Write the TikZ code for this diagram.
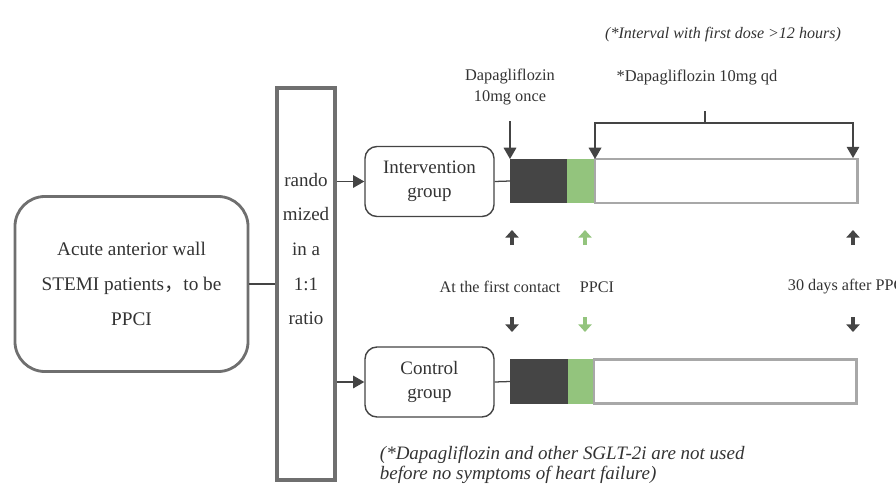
\documentclass[tikz,border=0pt]{standalone}
\usepackage{fontspec}
\setmainfont{Liberation Serif}
\newfontfamily\cjk{Noto Sans CJK SC}
\usepackage{xcolor}
\usetikzlibrary{positioning,arrows.meta}

\definecolor{framegray}{HTML}{6F6F6F}
\definecolor{linegray}{HTML}{444444}
\definecolor{txtgray}{HTML}{333333}
\definecolor{darkbar}{HTML}{454545}
\definecolor{greenbar}{HTML}{93C47D}
\definecolor{bargray}{HTML}{A8A8A8}

\begin{document}
\begin{tikzpicture}[x=0.025cm,y=-0.025cm,
  every node/.style={text=txtgray},
  bigbox/.style={draw=framegray,line width=2pt,rounded corners=0.75cm,
    minimum width=5.825cm,minimum height=4.375cm,align=center,
    font=\fontsize{13.7}{24.8}\selectfont},
  randbox/.style={draw=framegray,line width=2.4pt,minimum width=1.45cm,minimum height=9.8cm},
  groupbox/.style={draw=linegray,line width=1pt,rounded corners=0.3cm,
    minimum width=3.225cm,minimum height=1.75cm,align=center,
    font=\fontsize{13.5}{17}\selectfont},
  barpart/.style={inner sep=0pt,outer sep=0pt,minimum height=1.1cm},
  conn/.style={draw=linegray,line width=0.9pt},
  arr/.style={conn,-{Triangle[width=9pt,length=8pt]}},
  blockarr/.style={line width=3.4pt,-{Triangle[width=9.5pt,length=5.5pt]}},
  smalltxt/.style={font=\fontsize{11.5}{15}\selectfont}]
\useasboundingbox (0,0) rectangle (896,487);
% Patients and randomisation
\node[bigbox] (patients) at (131.5,284) {Acute anterior wall\\STEMI patients{\cjk ，}to be\\PPCI};
\node[randbox] (rand) at (306,284) {};
\node[align=center,font=\fontsize{13.5}{24.6}\selectfont] (randtxt) at (306,249) {rando\\mized\\in a\\1:1\\ratio};
\draw[conn] (patients.east) -- (patients.east -| rand.west);
% Groups
\node[groupbox] (interv) at (429.5,181.5) {Intervention\\group};
\node[groupbox] (control) at (429.5,382) {Control\\group};
\draw[arr] (interv.west -| rand.east) -- (interv.west);
\draw[arr] (control.west -| rand.east) -- (control.west);
% Time bars
\node[barpart,fill=darkbar,minimum width=1.425cm,anchor=west] (idark) at (510,181) {};
\node[barpart,fill=greenbar,minimum width=0.7cm,right=0pt of idark] (igreen) {};
\node[barpart,draw=bargray,line width=2pt,minimum width=6.55cm,right=0pt of igreen] (iwhite) {};
\node[barpart,fill=darkbar,minimum width=1.45cm,anchor=west] (cdark) at (510,381.5) {};
\node[barpart,fill=greenbar,minimum width=0.65cm,right=0pt of cdark] (cgreen) {};
\node[barpart,draw=bargray,line width=2pt,minimum width=6.55cm,right=0pt of cgreen] (cwhite) {};
\draw[conn] (interv.east) -- (idark.west);
\draw[conn] (control.east) -- (cdark.west);
% Dosing
\node[align=center,font=\fontsize{11.6}{15}\selectfont] (dose1) at (510,87) {Dapagliflozin\\10mg once};
\coordinate (dose1top) at (510,121);
\draw[arr] (dose1top) -- (idark.north west);
\node[font=\fontsize{11.7}{15}\selectfont] (dose2) at (697,77) {*Dapagliflozin 10mg qd};
\node[font=\fontsize{11.4}{14}\itshape] (note1) at (723,35) {(*Interval with first dose >12 hours)};
\coordinate (brk) at (705,123);
\coordinate (brktop) at (705,111);
\coordinate (qdend) at (853,158);
\draw[conn] (brktop) -- (brk);
\draw[arr] (brk) -| (iwhite.north west);
\draw[arr] (brk) -| (qdend);
% Time points
\node[smalltxt] (contact) at (500,287) {At the first contact};
\node[smalltxt] (ppci) at (597,287) {PPCI};
\node[smalltxt,anchor=west] (days) at (783,287) {30 days after PPCI};
\draw[blockarr,darkbar] (512,245) -- (512,230);
\draw[blockarr,greenbar] (585,245) -- (585,230);
\draw[blockarr,darkbar] (853,245) -- (853,230);
\draw[blockarr,darkbar] (512,317) -- (512,332);
\draw[blockarr,greenbar] (585,317) -- (585,332);
\draw[blockarr,darkbar] (853,317) -- (853,332);
% Footnote
\node[anchor=west,align=left,font=\fontsize{13.5}{14.4}\itshape] (note2) at (375,465) {(*Dapagliflozin and other SGLT-2i are not used\\before no symptoms of heart failure)};
\end{tikzpicture}
\end{document}
